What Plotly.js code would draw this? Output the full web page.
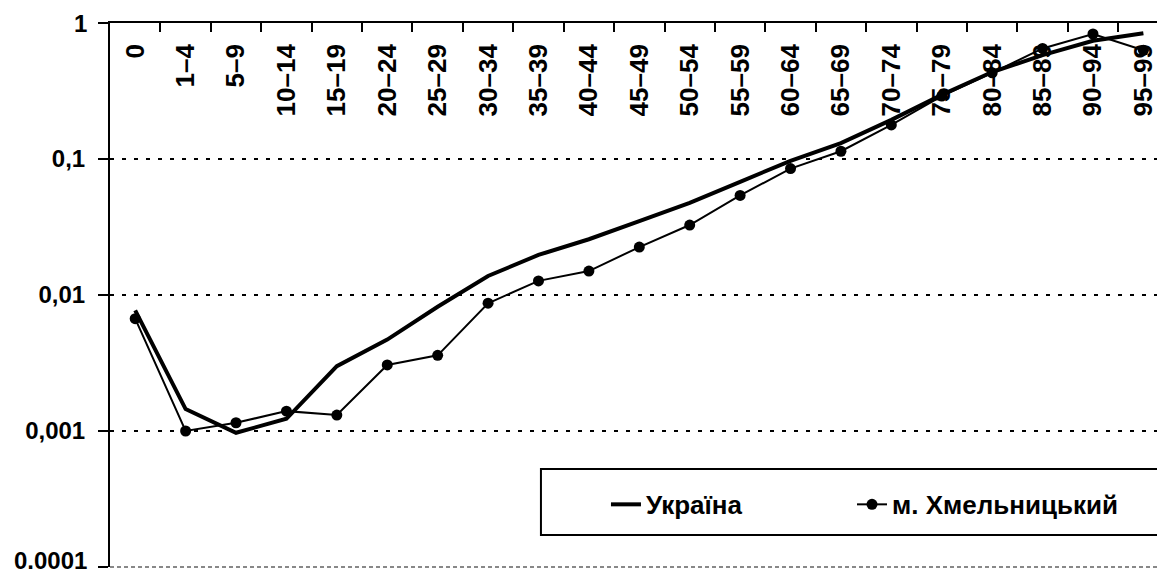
<!DOCTYPE html>
<html>
<head>
<meta charset="utf-8">
<script src="https://cdn.plot.ly/plotly-3.0.1.min.js"></script>
<style>html,body{margin:0;padding:0;background:#fff;}#chart{width:1157px;height:577px;}</style>
</head>
<body>
<div id="chart"></div>
<script>
const ageGroups = ['0','1–4','5–9','10–14','15–19','20–24','25–29','30–34','35–39','40–44','45–49','50–54','55–59','60–64','65–69','70–74','75–79','80–84','85–89','90–94','95–99'];
const ukraine = [0.0077,0.00145,0.00097,0.00123,0.0030,0.0047,0.0082,0.0138,0.0197,0.0257,0.035,0.0476,0.068,0.097,0.131,0.194,0.296,0.436,0.58,0.74,0.84];
const khmelnytskyi = [0.0067,0.0010,0.00115,0.0014,0.00131,0.00306,0.0036,0.0087,0.0127,0.015,0.0225,0.0327,0.054,0.085,0.114,0.178,0.29,0.43,0.65,0.83,0.63];
const seriesNames = ['Україна','м. Хмельницький'];
const yTickVals = [1,0.1,0.01,0.001,0.0001];
const yTickText = ['1','0,1','0,01','0,001','0.0001'];

const FONT = '"Liberation Sans", Arial, sans-serif';
const legendFont = {family: FONT, size: 26, weight: 700, color: '#000'};
const yFont = {family: FONT, size: 24, weight: 700, color: '#000'};

const traces = [
  {x: ageGroups, y: ukraine, name: seriesNames[0], type: 'scatter', mode: 'lines',
   line: {color: '#000', width: 4}, legend: 'legend'},
  {x: ageGroups, y: khmelnytskyi, name: seriesNames[1], type: 'scatter', mode: 'lines+markers',
   line: {color: '#000', width: 2}, marker: {color: '#000', size: 11}, legend: 'legend2'}
];

const last = yTickVals.length - 1;
// the end labels are drawn as annotations so they are not hidden or clipped
const axisTickText = yTickText.map((t, i) => (i === 0 || i === last) ? '' : t);

const layout = {
  width: 1157, height: 577,
  margin: {l: 110, r: 0, t: 23, b: 10, pad: 0},
  paper_bgcolor: '#fff', plot_bgcolor: '#fff',
  font: {family: FONT, color: '#000'},
  showlegend: true,
  legend: {
    orientation: 'h', x: 0.4737, xanchor: 'left', y: 0.115, yanchor: 'middle',
    bgcolor: 'rgba(0,0,0,0)', borderwidth: 0, font: legendFont
  },
  legend2: {
    orientation: 'h', x: 0.7087, xanchor: 'left', y: 0.115, yanchor: 'middle',
    bgcolor: 'rgba(0,0,0,0)', borderwidth: 0, font: legendFont
  },
  xaxis: {
    type: 'category', side: 'top', range: [-0.5, 20.27],
    showline: true, linecolor: '#000', linewidth: 2,
    ticks: 'inside', tickson: 'boundaries', ticklen: 9, tickwidth: 2, tickcolor: '#000',
    ticklabelposition: 'inside', tickangle: -90, ticklabeloverflow: 'allow',
    tickfont: {family: FONT, size: 26, weight: 700, color: '#000'},
    showgrid: false, zeroline: false, fixedrange: true
  },
  yaxis: {
    type: 'log', range: [-4, 0],
    tickmode: 'array', tickvals: yTickVals, ticktext: axisTickText,
    showline: true, linecolor: '#000', linewidth: 2,
    ticks: 'outside', ticklen: 10, tickwidth: 2, tickcolor: '#000',
    tickfont: yFont,
    ticklabelstandoff: 8, ticklabeloverflow: 'allow',
    showgrid: true, gridcolor: '#000', gridwidth: 2, griddash: '4px,8px',
    zeroline: false, fixedrange: true
  },
  annotations: [
    {xref: 'paper', yref: 'y', x: 0, y: Math.log10(yTickVals[0]), xanchor: 'right', yanchor: 'middle',
     xshift: -21, text: yTickText[0], showarrow: false, font: yFont},
    {xref: 'paper', yref: 'y', x: 0, y: Math.log10(yTickVals[last]), xanchor: 'right', yanchor: 'bottom',
     xshift: -21, yshift: -9, text: yTickText[last], showarrow: false, font: yFont}
  ],
  shapes: [
    {type: 'line', xref: 'paper', yref: 'paper', x0: 0, x1: 1, y0: 0, y1: 0,
     line: {color: '#888', width: 2, dash: '4px,3px'}},
    {type: 'rect', xref: 'paper', yref: 'paper', x0: 0.4116, x1: 1.05, y0: 0.059, y1: 0.180,
     line: {color: '#000', width: 2}, fillcolor: '#fff', layer: 'below'}
  ]
};

Plotly.newPlot('chart', traces, layout, {displayModeBar: false, staticPlot: true});
</script>
</body>
</html>
